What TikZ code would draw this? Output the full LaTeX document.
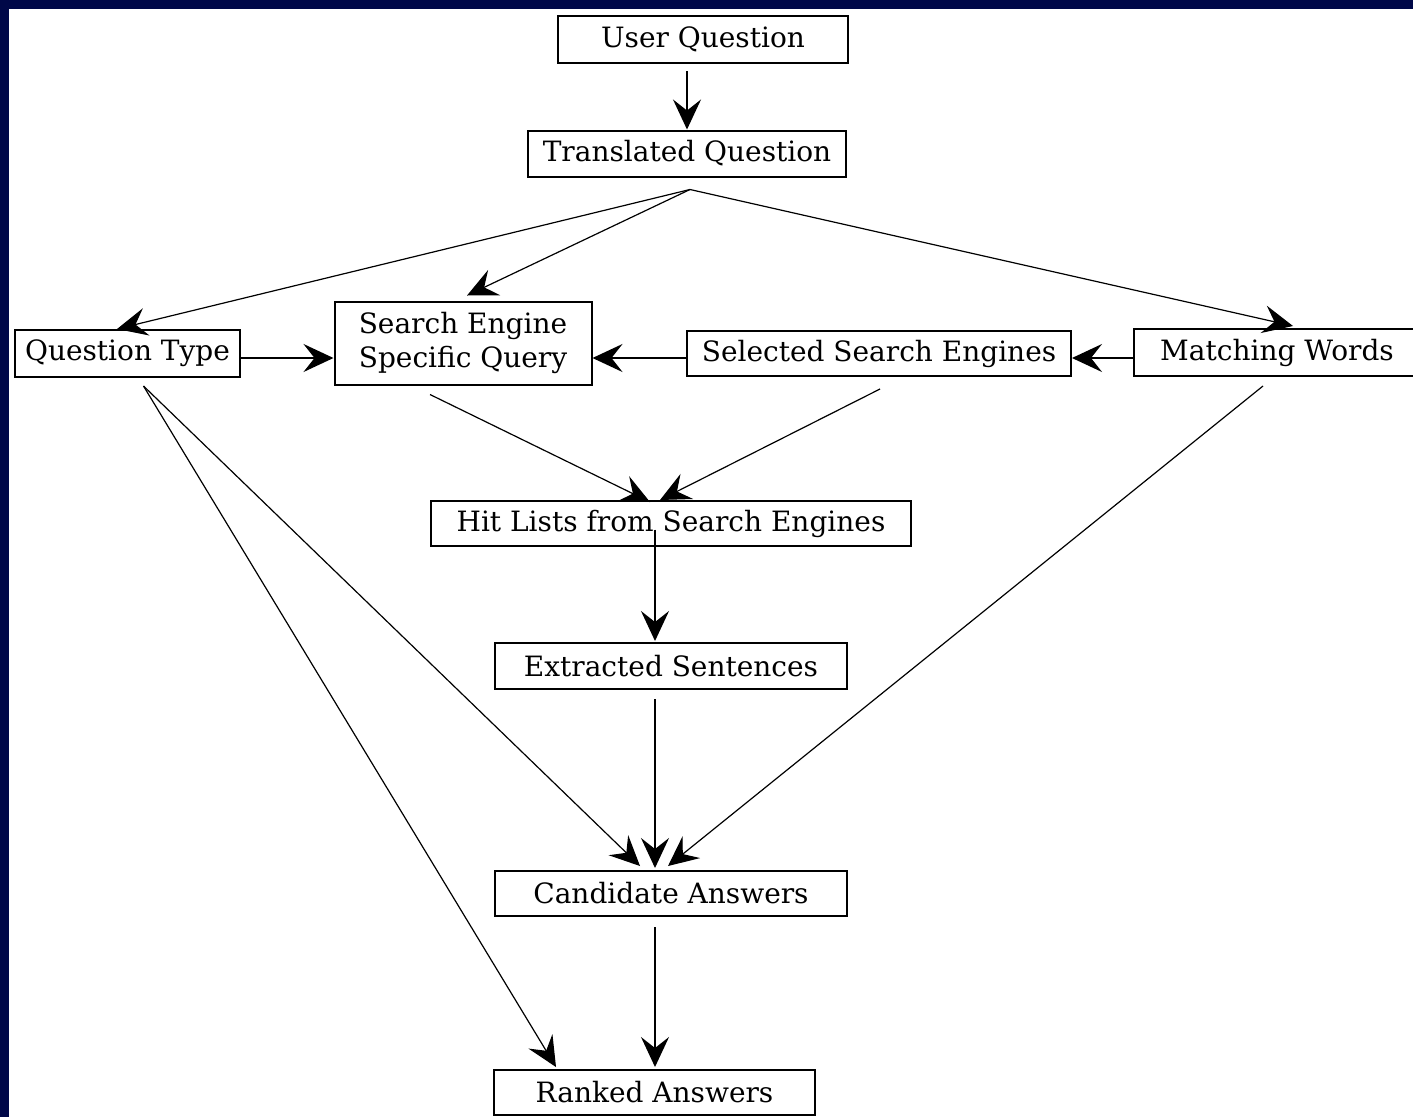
\documentclass[tikz,border=0pt]{standalone}
\usepackage{fontspec}
\setmainfont{DejaVu Serif}
\usetikzlibrary{arrows.meta}
\definecolor{navy}{RGB}{0,8,72}
\begin{document}
\begin{tikzpicture}[x=1pt,y=-1pt,
  box/.style={draw, line width=2pt, inner sep=0pt, align=center,
    font=\fontsize{28}{34}\selectfont},
  arr/.style={line width=1.6pt, -{Stealth[length=30pt,width=28pt,inset=11pt]}},
  diag/.style={arr, line width=1.2pt}]
% frame
\fill[navy] (0,0) rectangle (1413,1117);
\fill[white] (9,9) rectangle (1413,1117);
\useasboundingbox (0,0) rectangle (1413,1117);

% boxes
\node[box, minimum width=290pt, minimum height=47pt] (uq)   at (703,39.5)   {User Question};
\node[box, minimum width=318pt, minimum height=46pt] (tq)   at (687,153.5)  {Translated Question};
\node[box, minimum width=225pt, minimum height=47pt] (qt)   at (127.5,353.5){Question Type};
\node[box, minimum width=257pt, minimum height=83pt] (sesq) at (463,343)    {Search Engine\\Specific Query};
\node[box, minimum width=384pt, minimum height=45pt] (sse)  at (879,353.5)  {Selected Search Engines};
\node[box, minimum width=286pt, minimum height=47pt] (mw)   at (1277,352.5) {Matching Words};
\node[box, minimum width=480pt, minimum height=45pt] (hl)   at (671,523.5)  {Hit Lists from Search Engines};
\node[box, minimum width=352pt, minimum height=46pt] (es)   at (671,666)    {Extracted Sentences};
\node[box, minimum width=352pt, minimum height=45pt] (ca)   at (671,893.5)  {Candidate Answers};
\node[box, minimum width=321pt, minimum height=45pt] (ra)   at (654.5,1092.5){Ranked Answers};

% common start points of the fan-out lines
\coordinate (tqo) at ([xshift=3pt,yshift=-12pt]tq.south);
\coordinate (qto) at ([xshift=16pt,yshift=-8pt]qt.south);

% connectors
\draw[arr] (tq.north |- uq.south) ++(0,7) -- (tq.north);
\draw[diag] (tqo) -- ([xshift=-10.5pt]qt.north);
\draw[diag] (tqo) -- ([xshift=4pt,yshift=5pt]sesq.north);
\draw[diag] (tqo) -- ([xshift=16pt,yshift=2pt]mw.north);

\draw[arr] ([yshift=-4.5pt]qt.east) -- ([yshift=-4.5pt]qt.east -| sesq.west);
\draw[arr] ([yshift=-4.5pt]sse.west) -- ([yshift=-4.5pt]sse.west -| sesq.east);
\draw[arr] ([yshift=-5.5pt]mw.west) -- ([yshift=-5.5pt]mw.west -| sse.east);

\draw[diag] ([xshift=-33pt,yshift=-9pt]sesq.south) -- ([xshift=-21pt,yshift=-2pt]hl.north);
\draw[diag] ([xshift=1pt,yshift=-12pt]sse.south) -- ([xshift=-11pt]hl.north);

\draw[arr] ([xshift=-16pt,yshift=-6pt]hl.center) -- ([xshift=-16pt,yshift=1pt]es.north);
\draw[arr] ([xshift=-16pt,yshift=-9pt]es.south) -- ([xshift=-16pt,yshift=2pt]ca.north);

\draw[diag] (qto) -- ([xshift=-31pt,yshift=4pt]ca.north);
\draw[diag] ([xshift=-14pt,yshift=-9pt]mw.south) -- ([xshift=-3pt,yshift=4pt]ca.north);
\draw[diag] (qto) -- ([xshift=-98.5pt,yshift=2pt]ra.north);

\draw[arr] ([xshift=-16pt,yshift=-10pt]ca.south) -- ([xshift=0.5pt,yshift=2pt]ra.north);
\end{tikzpicture}
\end{document}
